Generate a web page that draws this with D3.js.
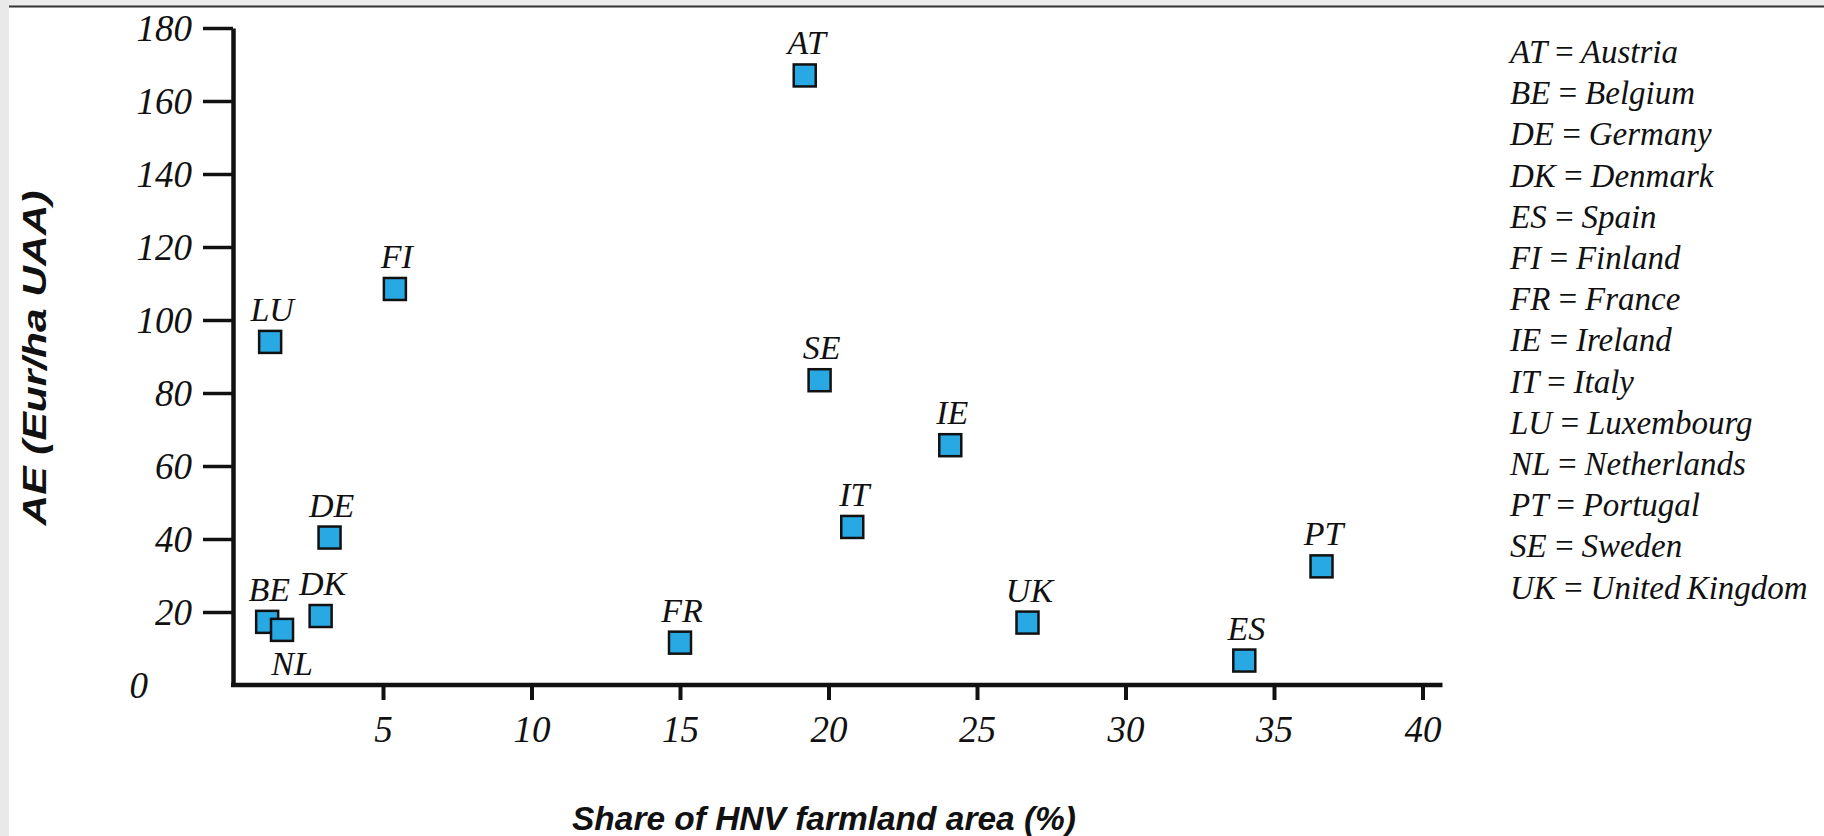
<!DOCTYPE html>
<meta charset="utf-8">
<script src="https://cdnjs.cloudflare.com/ajax/libs/d3/7.8.5/d3.min.js"></script>
<style>

body {
  margin: 0;
  background: #fff;
}

text {
  fill: #111;
}

.tick text, .pt-label, .legend text {
  font-family: "Liberation Serif", "Times New Roman", serif;
  font-style: italic;
}

.title {
  font-family: "Liberation Sans", Arial, sans-serif;
  font-weight: bold;
  font-style: italic;
  font-size: 33px;
}

.pt {
  fill: #29a9e4;
  stroke: #111;
  stroke-width: 2.5px;
}

</style>
<body>
<script>

// country codes and values
var codes  = ["AT", "BE", "DE", "DK", "ES", "FI", "FR", "IE", "IT", "LU", "NL", "PT", "SE", "UK"];
var hnv    = [19.2, 1.1, 3.2, 2.9, 34.0, 5.4, 15.0, 24.1, 20.8, 1.2, 1.6, 36.6, 19.7, 26.7];
var ae     = [167, 17.3, 40.4, 18.9, 6.7, 108.5, 11.6, 65.7, 43.3, 94, 15.1, 32.5, 83.5, 17.1];

var countries = ["Austria", "Belgium", "Germany", "Denmark", "Spain", "Finland", "France",
                 "Ireland", "Italy", "Luxembourg", "Netherlands", "Portugal", "Sweden", "United Kingdom"];

var xTicks = [5, 10, 15, 20, 25, 30, 35, 40];
var yTicks = [0, 20, 40, 60, 80, 100, 120, 140, 160, 180];

var width = 1824,
    height = 836;

var svg = d3.select("body").append("svg")
    .attr("width", width)
    .attr("height", height);

// grey page edge + rule at the top
svg.append("rect").attr("x", 0).attr("y", 0).attr("width", width).attr("height", 6).attr("fill", "#ececec");
svg.append("rect").attr("x", 0).attr("y", 0).attr("width", 9).attr("height", height).attr("fill", "#e9e9e9");
svg.append("line")
    .attr("x1", 9).attr("x2", width).attr("y1", 6.5).attr("y2", 6.5)
    .attr("stroke", "#333").attr("stroke-width", 2);

var x = d3.scaleLinear().domain([0, 40]).range([234.5, 1422.5]);
var y = d3.scaleLinear().domain([0, 180]).range([685, 28]);

// y axis
var yAxis = svg.append("g")
    .attr("transform", "translate(233,0)")
    .call(d3.axisLeft(y).tickValues(yTicks).tickSize(30).tickSizeOuter(0).tickPadding(11));

yAxis.select(".domain").attr("stroke", "#111").attr("stroke-width", 4.5);
yAxis.selectAll(".tick line").attr("stroke", "#111").attr("stroke-width", 3.5);
yAxis.selectAll(".tick text").attr("font-size", 37).attr("dy", "0.35em");
yAxis.selectAll(".tick").filter(function(d) { return d === 0; })
    .each(function() {
      d3.select(this).select("line").remove();
      d3.select(this).select("text").attr("dx", -44);
    });

// x axis
var xAxis = svg.append("g")
    .attr("transform", "translate(0,685)")
    .call(d3.axisBottom(x).tickValues(xTicks).tickSize(15).tickSizeOuter(0).tickPadding(16));

xAxis.select(".domain").remove();
xAxis.append("line")
    .attr("x1", 231).attr("x2", x(40) + 20)
    .attr("stroke", "#111").attr("stroke-width", 4.5);
xAxis.selectAll(".tick line").attr("stroke", "#111").attr("stroke-width", 4);
xAxis.selectAll(".tick text").attr("font-size", 37).attr("dy", "0.71em");

// points
var data = codes.map(function(c, i) { return {code: c, x: hnv[i], y: ae[i]}; });
var s = 22;

var pts = svg.append("g").selectAll("g")
    .data(data)
    .enter().append("g");

pts.append("rect")
    .attr("class", "pt")
    .attr("x", function(d) { return x(d.x) - s / 2; })
    .attr("y", function(d) { return y(d.y) - s / 2; })
    .attr("width", s)
    .attr("height", s);

pts.append("text")
    .attr("class", "pt-label")
    .attr("font-size", 34)
    .attr("text-anchor", "middle")
    .attr("x", function(d) { return x(d.x) + (d.code === "NL" ? 10 : 2); })
    .attr("y", function(d) { return y(d.y) + (d.code === "NL" ? 45 : -21); })
    .text(function(d) { return d.code; });

// key
var legend = svg.append("g")
    .attr("class", "legend")
    .attr("transform", "translate(1510,63)");

legend.selectAll("text")
    .data(codes)
    .enter().append("text")
    .attr("font-size", 33)
    .attr("word-spacing", -2)
    .attr("y", function(d, i) { return i * 41.2; })
    .text(function(d, i) { return d + " = " + countries[i]; });

// axis titles
svg.append("text")
    .attr("class", "title")
    .attr("transform", "translate(46,358) rotate(-90)")
    .attr("text-anchor", "middle")
    .attr("textLength", 335)
    .attr("lengthAdjust", "spacingAndGlyphs")
    .text("AE (Eur/ha UAA)");

svg.append("text")
    .attr("class", "title")
    .attr("x", 572)
    .attr("y", 830)
    .attr("textLength", 504)
    .attr("lengthAdjust", "spacingAndGlyphs")
    .text("Share of HNV farmland area (%)");

</script>
